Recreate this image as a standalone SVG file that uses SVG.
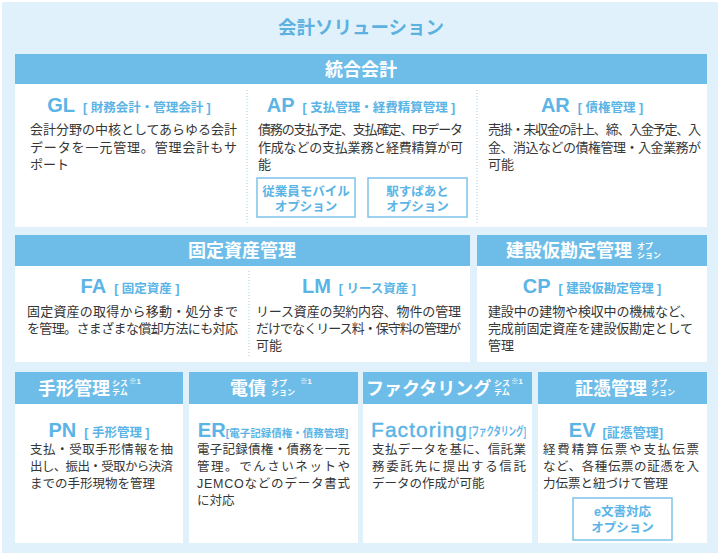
<svg xmlns="http://www.w3.org/2000/svg" width="720" height="559" viewBox="0 0 720 559">
<style>
.bg{fill:#e1f1fb}
.bar{fill:#6ebde9}
.panel{fill:#ffffff}
.title{font-family:'Liberation Sans','Noto Sans CJK JP',sans-serif;font-weight:700;font-size:18.5px;fill:#5cb1e1;text-anchor:middle}
.hd{font-family:'Liberation Sans','Noto Sans CJK JP',sans-serif;font-weight:700;font-size:18px;fill:#ffffff}
.sm{font-family:'Liberation Sans','Noto Sans CJK JP',sans-serif;font-weight:700;font-size:8px;fill:#ffffff}
.sup{font-size:7.5px}
.body{font-family:'Liberation Sans','Noto Sans CJK JP',sans-serif;font-size:13px;fill:#363636}
.b3{font-size:12.5px}
.ttl{font-family:'Liberation Sans','Noto Sans CJK JP',sans-serif;font-weight:700;font-size:20px;fill:#5ab4e6;text-anchor:middle}
.br{font-family:'Liberation Sans','Noto Sans CJK JP',sans-serif;font-weight:700;font-size:12.5px;fill:#5ab4e6}
.opt rect{fill:#ffffff;stroke:#7cc4ea;stroke-width:1.5}
.opt text{font-family:'Liberation Sans','Noto Sans CJK JP',sans-serif;font-weight:700;font-size:12.5px;fill:#5ab4e6;text-anchor:middle}
.div{stroke:#9fcbe7;stroke-width:1;stroke-dasharray:1 2;fill:none}
</style>
<rect class="bg" x="2" y="2" width="716" height="551"/>
<g id="title"><text class="title" x="361" y="34">会計ソリューション</text></g>

<!-- Row 1 -->
<g id="togo-kaikei">
<rect class="bar" x="15" y="54" width="692" height="30"/>
<text class="hd" x="361" y="76" text-anchor="middle">統合会計</text>
<rect class="panel" x="15" y="84" width="692" height="143"/>
</g>
<g id="gl">
<text class="ttl" x="129" y="112">GL<tspan class="br" dx="8">[ 財務会計・管理会計 ]</tspan></text>
<text class="body"><tspan x="30" y="134" textLength="207">会計分野の中核としてあらゆる会計</tspan><tspan x="30" y="151.5" textLength="207">データを一元管理。管理会計もサ</tspan><tspan x="30" y="169">ポート</tspan></text>
</g>
<g id="ap">
<text class="ttl" x="361" y="112">AP<tspan class="br" dx="8">[ 支払管理・経費精算管理 ]</tspan></text>
<text class="body"><tspan x="258" y="134" textLength="205">債務の支払予定、支払確定、FBデータ</tspan><tspan x="258" y="151.5" textLength="205">作成などの支払業務と経費精算が可</tspan><tspan x="258" y="169">能</tspan></text>
<g class="opt" id="opt-mobile">
<rect x="257" y="178" width="98" height="39"/>
<text x="306"><tspan x="306" y="196">従業員モバイル</tspan><tspan x="306" y="211">オプション</tspan></text>
</g>
<g class="opt" id="opt-ekispert">
<rect x="368" y="178" width="99" height="39"/>
<text x="417.5"><tspan x="417.5" y="196">駅すぱあと</tspan><tspan x="417.5" y="211">オプション</tspan></text>
</g>
</g>
<g id="ar">
<text class="ttl" x="592" y="112">AR<tspan class="br" dx="8">[ 債権管理 ]</tspan></text>
<text class="body"><tspan x="488" y="134" textLength="213">売掛・未収金の計上、締、入金予定、入</tspan><tspan x="488" y="151.5" textLength="213">金、消込などの債権管理・入金業務が</tspan><tspan x="488" y="169">可能</tspan></text>
</g>

<!-- Row 2 -->
<g id="kotei-shisan">
<rect class="bar" x="15" y="235" width="455" height="31"/>
<text class="hd" x="242" y="257" text-anchor="middle">固定資産管理</text>
<rect class="panel" x="15" y="266" width="455" height="96"/>
</g>
<g id="fa">
<text class="ttl" x="130" y="293">FA<tspan class="br" dx="8">[ 固定資産 ]</tspan></text>
<text class="body"><tspan x="27" y="316" textLength="211">固定資産の取得から移動・処分まで</tspan><tspan x="27" y="333" textLength="211">を管理。さまざまな償却方法にも対応</tspan></text>
</g>
<g id="lm">
<text class="ttl" x="359" y="293">LM<tspan class="br" dx="8">[ リース資産 ]</tspan></text>
<text class="body"><tspan x="256" y="316" textLength="205">リース資産の契約内容、物件の管理</tspan><tspan x="256" y="333" textLength="205">だけでなくリース料・保守料の管理が</tspan><tspan x="256" y="350">可能</tspan></text>
</g>
<g id="cp">
<rect class="bar" x="477" y="235" width="230" height="31"/>
<text class="hd" x="506" y="257">建設仮勘定管理</text>
<text class="sm"><tspan x="637" y="248.5">オプ</tspan><tspan x="637" y="258">ション</tspan></text>
<rect class="panel" x="477" y="266" width="230" height="96"/>
<text class="ttl" x="592" y="293">CP<tspan class="br" dx="8">[ 建設仮勘定管理 ]</tspan></text>
<text class="body"><tspan x="488" y="316" textLength="205">建設中の建物や検収中の機械など、</tspan><tspan x="488" y="333" textLength="205">完成前固定資産を建設仮勘定として</tspan><tspan x="488" y="350">管理</tspan></text>
</g>

<!-- Row 3 -->
<g id="pn">
<rect class="bar" x="15" y="372" width="168" height="32"/>
<text class="hd" x="38" y="395">手形管理</text>
<text class="sm"><tspan x="112" y="385.5">シス</tspan><tspan class="sup" dx="1" y="383.5">※1</tspan><tspan x="112" y="395">テム</tspan></text>
<rect class="panel" x="15" y="404" width="168" height="139"/>
<text class="ttl" x="99" y="437">PN<tspan class="br" dx="8">[ 手形管理 ]</tspan></text>
<text class="body b3"><tspan x="30" y="454" textLength="143">支払・受取手形情報を抽</tspan><tspan x="30" y="471" textLength="143">出し、振出・受取から決済</tspan><tspan x="30" y="488">までの手形現物を管理</tspan></text>
</g>
<g id="er">
<rect class="bar" x="189" y="372" width="169" height="32"/>
<text class="hd" x="230" y="395">電債</text>
<text class="sm"><tspan x="271" y="385.5">オプ</tspan><tspan class="sup" x="300" y="383.5">※1</tspan><tspan x="271" y="395">ション</tspan></text>
<rect class="panel" x="189" y="404" width="169" height="139"/>
<text class="ttl" x="273" y="437">ER<tspan class="br" style="font-size:10.5px">[電子記録債権・債務管理]</tspan></text>
<text class="body b3"><tspan x="197" y="454" textLength="153">電子記録債権・債務を一元</tspan><tspan x="197" y="471" textLength="153">管理。でんさいネットや</tspan><tspan x="197" y="488" textLength="153">JEMCOなどのデータ書式</tspan><tspan x="197" y="505">に対応</tspan></text>
</g>
<g id="factoring">
<rect class="bar" x="363" y="372" width="169" height="32"/>
<text class="hd" x="366" y="395">ファクタリング</text>
<text class="sm"><tspan x="494" y="385.5">シス</tspan><tspan class="sup" dx="1" y="383.5">※1</tspan><tspan x="494" y="395">テム</tspan></text>
<rect class="panel" x="363" y="404" width="169" height="139"/>
<text class="ttl" x="371" y="437" style="text-anchor:start;font-weight:400;font-size:21px;stroke:#5ab4e6;stroke-width:0.4" textLength="96">Factoring</text>
<text class="br" x="469" y="436" style="font-size:12px" textLength="57" lengthAdjust="spacingAndGlyphs">[ファクタリング]</text>
<text class="body b3"><tspan x="372" y="454" textLength="154">支払データを基に、信託業</tspan><tspan x="372" y="471" textLength="154">務委託先に提出する信託</tspan><tspan x="372" y="488">データの作成が可能</tspan></text>
</g>
<g id="ev">
<rect class="bar" x="538" y="372" width="169" height="32"/>
<text class="hd" x="575" y="395">証憑管理</text>
<text class="sm"><tspan x="651" y="385.5">オプ</tspan><tspan x="651" y="395">ション</tspan></text>
<rect class="panel" x="538" y="404" width="169" height="139"/>
<text class="ttl" x="616" y="437">EV<tspan class="br" dx="7" style="font-size:13px">[証憑管理]</tspan></text>
<text class="body b3"><tspan x="543" y="454" textLength="156">経費精算伝票や支払伝票</tspan><tspan x="543" y="471" textLength="156">など、各種伝票の証憑を入</tspan><tspan x="543" y="488">力伝票と紐づけて管理</tspan></text>
<g class="opt" id="opt-edoc">
<rect x="573" y="498" width="99" height="42"/>
<text x="622.5"><tspan x="622.5" y="516">e文書対応</tspan><tspan x="622.5" y="532">オプション</tspan></text>
</g>
</g>

<g id="connectors">
<line class="div" x1="247" y1="90" x2="247" y2="223"/>
<line class="div" x1="477" y1="90" x2="477" y2="223"/>
<line class="div" x1="249" y1="271" x2="249" y2="357"/>
</g>
</svg>
